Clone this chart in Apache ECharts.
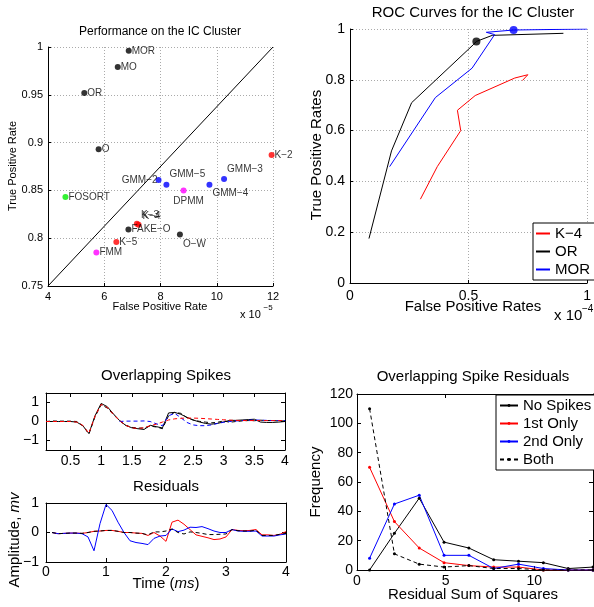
<!DOCTYPE html>
<html>
<head>
<meta charset="utf-8">
<script src="https://cdn.jsdelivr.net/npm/echarts@6/dist/echarts.min.js"></script>
<style>
html, body { margin: 0; padding: 0; background: #fff; }
#chart { width: 594px; height: 607px; }
</style>
</head>
<body>
<div id="chart"></div>
<script>
// ---------- data ----------
// performance on the IC cluster (FPR in units of 1e-5)
const methodNames = ['MOR', 'MO', 'OR', 'O', 'FAKE−O', 'O−W', 'FOSORT', 'GMM−2', 'GMM−5', 'GMM−4', 'GMM−3', 'DPMM', 'FMM', 'K−2', 'K−3', 'K−4', 'K−5'];
const methodFpr = [6.87, 6.48, 5.29, 5.80, 6.86, 8.69, 4.62, 7.93, 8.21, 9.74, 10.26, 8.82, 5.72, 11.95, 7.16, 7.22, 6.43];
const methodTpr = [0.996, 0.979, 0.952, 0.893, 0.809, 0.804, 0.843, 0.861, 0.856, 0.856, 0.862, 0.850, 0.785, 0.887, 0.815, 0.814, 0.796];
const diagFpr = [4, 12];
const diagTpr = [0.75, 1];

// ROC curves (FPR in units of 1e-4)
const rocK4Fpr = [0.297, 0.368, 0.467, 0.453, 0.528, 0.695, 0.75, 0.727];
const rocK4Tpr = [0.33, 0.458, 0.60, 0.68, 0.738, 0.807, 0.82, 0.797];
const rocOrFpr = [0.08, 0.175, 0.26, 0.52, 0.533, 0.60, 0.90];
const rocOrTpr = [0.175, 0.52, 0.71, 0.938, 0.951, 0.975, 0.983];
const rocMorFpr = [0.167, 0.36, 0.515, 0.61, 0.575, 0.69, 1.0];
const rocMorTpr = [0.458, 0.73, 0.846, 0.978, 0.987, 0.996, 1.0];
const rocOrPoint = [0.533, 0.951];
const rocMorPoint = [0.69, 0.996];

// overlapping spikes (ms, mV)
const spikeTime = [0.1, 0.2, 0.3, 0.4, 0.5, 0.6, 0.7, 0.8, 0.9, 1.0,
                   1.1, 1.2, 1.3, 1.4, 1.5, 1.6, 1.7, 1.8, 1.9, 2.0,
                   2.1, 2.2, 2.3, 2.4, 2.5, 2.6, 2.7, 2.8, 2.9, 3.0,
                   3.1, 3.2, 3.3, 3.4, 3.5, 3.6, 3.7, 3.8, 3.9, 4.0];
const spikeData = [0, 0, 0, 0, 0, -0.03, -0.22, -0.63, 0.3, 0.95,
                   0.78, 0.4, 0.05, -0.2, -0.33, -0.38, -0.42, -0.2, -0.27, -0.34,
                   0.45, 0.48, 0.38, 0.22, 0.08, -0.02, -0.1, -0.14, -0.1, -0.02,
                   0.06, 0.06, 0.08, 0.1, 0.12, -0.03, -0.05, -0.05, -0.03, 0];
const spikeBoth = [0, 0.03, 0.02, 0.02, 0.02, 0, -0.22, -0.66, 0.25, 0.88,
                   0.71, 0.36, 0.05, -0.2, -0.31, -0.35, -0.34, -0.24, -0.29, -0.38,
                   0.3, 0.48, 0.43, 0.2, 0.08, 0.01, -0.03, -0.07, -0.04, 0.03,
                   -0.04, 0, 0.03, 0.05, 0.04, 0.07, 0.05, 0.05, 0.03, 0.03];
const spikeSecond = [null, null, null, null, null, null, null, null, null, null,
                   null, null, 0, 0.02, 0.02, 0.02, 0.03, 0, -0.12, -0.22,
                   0.3, 0.43, 0.2, -0.05, -0.18, -0.22, -0.22, -0.18, -0.1, -0.04,
                   0, 0.03, 0.05, 0.07, 0.08, 0.07, 0.06, 0.05, 0.05, 0.05];
const spikeFirst = [0, 0, 0, 0, 0, -0.03, -0.2, -0.62, 0.28, 0.9,
                   0.74, 0.38, 0.05, -0.2, -0.33, -0.37, -0.33, -0.22, -0.14, -0.03,
                   0.08, 0.14, 0.17, 0.18, 0.18, 0.17, 0.15, 0.13, 0.11, 0.09,
                   0.07, 0.06, 0.05, 0.05, 0.05, 0.05, 0.05, 0.05, 0.05, 0.05];

// residuals
const resFirst = [0, -0.04, -0.03, -0.02, -0.02, -0.03, 0, 0.04, 0.05, 0.07,
                  0.07, 0.04, 0, 0, -0.02, -0.03, -0.1, 0, -0.12, -0.3,
                  0.35, 0.42, 0.28, 0.1, -0.08, -0.13, -0.18, -0.24, -0.22, -0.15,
                  0.1, 0.07, 0.06, 0.07, 0.1, -0.08, -0.08, -0.1, -0.06, 0.03];
const resSecond = [0, -0.04, -0.03, -0.02, -0.02, -0.04, -0.15, -0.62, 0.3, 0.95,
                  0.75, 0.35, 0, -0.28, -0.34, -0.37, -0.41, -0.2, -0.12, -0.1,
                  0.12, 0.03, 0.08, 0.18, 0.17, 0.2, 0.13, 0.05, 0, 0,
                  0.1, 0.05, 0.04, 0.04, 0.05, -0.12, -0.12, -0.12, -0.08, -0.05];
const resBoth = [0, -0.04, -0.03, -0.02, -0.02, -0.03, 0, 0.04, 0.05, 0.07,
                  0.07, 0.04, 0, 0, -0.02, -0.03, -0.08, 0.02, 0.02, 0.05,
                  0.12, 0, -0.05, 0.02, 0, -0.03, -0.07, -0.07, -0.06, -0.05,
                  0.1, 0.06, 0.05, 0.05, 0.08, -0.1, -0.1, -0.1, -0.06, -0.03];

// residual sum of squares histogram
const rssBins = [0.71, 2.11, 3.51, 4.91, 6.31, 7.71, 9.11, 10.51, 11.91, 13.31];
const freqNone = [0, 25, 49, 19, 15, 7, 6, 5, 1, 2];
const freqFirst = [70, 33, 15, 5, 3, 2, 2, 0, 0, 0];
const freqSecond = [8, 45, 51, 10, 10, 1, 4, 1, 0, 0];
const freqBoth = [110, 11, 4, 2, 3, 1, 1, 0, 0, 0];

// ---------- helpers ----------
const FONT = '"Liberation Sans", Arial, Helvetica, sans-serif';
const zip = (xs, ys) => xs.map((x, i) => [x, ys[i]]);
const minus = v => String(v).replace('-', '−');

function axis(grid, pos, min, max, step, opts) {
    opts = opts || {};
    const a = {
        type: 'value', gridIndex: grid, position: pos, min: min, max: max,
        axisLine: { show: true, onZero: false, lineStyle: { color: '#000', width: 1 } },
        axisTick: { show: true, inside: true, length: opts.tick || 4, lineStyle: { color: '#000', width: 1 } },
        axisLabel: { show: opts.label !== false, color: '#000', fontFamily: FONT, fontSize: opts.size || 14,
                     margin: opts.margin || 5, formatter: minus },
        splitLine: { show: !!opts.grid, lineStyle: { color: '#aaa', type: [1, 2], width: 1 } }
    };
    if (opts.ticks) {
        a.axisTick.customValues = opts.ticks;
        a.axisLabel.customValues = opts.ticks;
    } else {
        a.interval = step;
    }
    return a;
}

function text(x, y, str, size, opts) {
    opts = opts || {};
    const align = opts.align || 'center';
    return {
        type: 'text', x: x, y: y, rotation: opts.rot ? Math.PI / 2 : 0,
        style: {
            text: str, rich: opts.rich, fontSize: size, fontFamily: FONT, fill: '#000',
            align: align, verticalAlign: 'middle', textAlign: align, textVerticalAlign: 'middle'
        }
    };
}

function methodColor(name) {
    if (name.startsWith('GMM')) return '#0000ff';
    if (name.startsWith('K')) return '#ff0000';
    if (name === 'FOSORT') return '#00ee00';
    if (name === 'DPMM' || name === 'FMM') return '#ff00ff';
    return '#000';
}
const labelSpot = {
    'GMM−2': ['right', -1, 0],
    'GMM−5': ['left', 3, -10],
    'GMM−3': ['left', 3, -10],
    'GMM−4': ['left', 3, 9],
    'DPMM': ['center', 5, 11],
    'O−W': ['left', 3, 10],
    'K−3': ['left', 4, -9],
    'K−4': ['left', 4, -9]
};

const perfPoints = methodNames.map((name, i) => {
    const spot = labelSpot[name] || ['left', 3, 0];
    return {
        name: name,
        value: [methodFpr[i], methodTpr[i]],
        itemStyle: { color: methodColor(name) },
        label: { show: true, position: 'inside', align: spot[0], verticalAlign: 'middle',
                 offset: [spot[1], spot[2]], formatter: name, color: '#000', fontSize: 10, fontFamily: FONT }
    };
});

function line(name, x, y, data, color, dashed, extra) {
    return Object.assign({
        name: name, type: 'line', xAxisIndex: x, yAxisIndex: y, data: data,
        symbol: 'none', connectNulls: false, silent: true,
        lineStyle: { color: color, width: 1, type: dashed ? [4, 3] : 'solid' },
        itemStyle: { color: color }
    }, extra || {});
}

const chart = echarts.init(document.getElementById('chart'), null, { renderer: 'canvas' });

const option = {
    animation: false,
    backgroundColor: '#fff',
    textStyle: { fontFamily: FONT },
    grid: [
        { left: 48, right: 321, top: 47, bottom: 321 },
        { left: 350, right: 1, top: 29, bottom: 324 },
        { left: 46, right: 309, top: 393, bottom: 157 },
        { left: 46, right: 308, top: 503, bottom: 45 },
        { left: 357, right: 1, top: 394, bottom: 37 }
    ],
    xAxis: [
        axis(0, 'bottom', 4, 12, 2, { size: 11, margin: 5, grid: true, tick: 3 }),
        axis(1, 'bottom', 0, 1, 0.5, { size: 14, margin: 6, grid: true, tick: 3 }),
        axis(2, 'bottom', 0.1, 4, null, { ticks: [0.5, 1, 1.5, 2, 2.5, 3, 3.5, 4], margin: 4 }),
        axis(2, 'top', 0.1, 4, null, { ticks: [0.5, 1, 1.5, 2, 2.5, 3, 3.5, 4], label: false }),
        axis(3, 'bottom', 0, 4, 1, { margin: 3 }),
        axis(3, 'top', 0, 4, 1, { label: false }),
        axis(4, 'bottom', 0, 13.31, null, { ticks: [0, 5, 10], margin: 4 }),
        axis(4, 'top', 0, 13.31, null, { ticks: [0, 5, 10], label: false })
    ],
    yAxis: [
        axis(0, 'left', 0.75, 1, 0.05, { size: 11, margin: 5, grid: true, tick: 3 }),
        axis(1, 'left', 0, 1, 0.2, { size: 14, margin: 5, grid: true, tick: 3 }),
        axis(2, 'left', -1.5, 1.5, null, { ticks: [-1, 0, 1], margin: 7 }),
        axis(2, 'right', -1.5, 1.5, null, { ticks: [-1, 0, 1], label: false }),
        axis(3, 'left', -1, 1, 1, { margin: 7 }),
        axis(3, 'right', -1, 1, 1, { label: false }),
        axis(4, 'left', 0, 120, 20, { margin: 4 }),
        axis(4, 'right', 0, 120, 20, { label: false })
    ],
    legend: [
        {
            data: ['K−4', 'OR', 'MOR'], orient: 'vertical', left: 533, top: 223,
            itemWidth: 14, itemHeight: 1, itemGap: 3, padding: [3, 6, 3, 2],
            backgroundColor: '#fff', borderColor: '#000', borderWidth: 1, borderRadius: 0,
            selectedMode: false, textStyle: { color: '#000', fontSize: 15, fontFamily: FONT }
        },
        {
            data: ['No Spikes', '1st Only', '2nd Only', 'Both'], orient: 'vertical', left: 496, top: 395,
            itemWidth: 18, itemHeight: 3.5, itemGap: 3, padding: [3, 6, 3, 3],
            backgroundColor: '#fff', borderColor: '#000', borderWidth: 1, borderRadius: 0,
            selectedMode: false, textStyle: { color: '#000', fontSize: 15, fontFamily: FONT }
        }
    ],
    series: [
        // performance scatter
        line('diag', 0, 0, zip(diagFpr, diagTpr), '#000', false),
        {
            name: 'methods', type: 'scatter', xAxisIndex: 0, yAxisIndex: 0,
            symbol: 'circle', symbolSize: 6, silent: true, data: perfPoints
        },
        // ROC
        line('K−4', 1, 1, zip(rocK4Fpr, rocK4Tpr), '#ff0000', false),
        line('OR', 1, 1, zip(rocOrFpr, rocOrTpr), '#000', false),
        line('MOR', 1, 1, zip(rocMorFpr, rocMorTpr), '#0000ff', false),
        { name: 'orPt', type: 'scatter', xAxisIndex: 1, yAxisIndex: 1, symbolSize: 8, silent: true,
          itemStyle: { color: '#000' }, data: [rocOrPoint] },
        { name: 'morPt', type: 'scatter', xAxisIndex: 1, yAxisIndex: 1, symbolSize: 8, silent: true,
          itemStyle: { color: '#0000ff' }, data: [rocMorPoint] },
        // overlapping spikes
        line('spike data', 2, 2, zip(spikeTime, spikeData), '#000', false),
        line('spike both', 2, 2, zip(spikeTime, spikeBoth), '#000', true),
        line('spike second', 2, 2, zip(spikeTime, spikeSecond), '#0000ff', true),
        line('spike first', 2, 2, zip(spikeTime, spikeFirst), '#ff0000', true),
        // residuals
        line('res first', 4, 4, zip(spikeTime, resFirst), '#ff0000', false),
        line('res second', 4, 4, zip(spikeTime, resSecond), '#0000ff', false),
        line('res both', 4, 4, zip(spikeTime, resBoth), '#000', true),
        // histogram
        line('No Spikes', 6, 6, zip(rssBins, freqNone), '#000', false, { symbol: 'circle', symbolSize: 3, showSymbol: true }),
        line('1st Only', 6, 6, zip(rssBins, freqFirst), '#ff0000', false, { symbol: 'circle', symbolSize: 3, showSymbol: true }),
        line('2nd Only', 6, 6, zip(rssBins, freqSecond), '#0000ff', false, { symbol: 'circle', symbolSize: 3, showSymbol: true }),
        line('Both', 6, 6, zip(rssBins, freqBoth), '#000', true, { symbol: 'circle', symbolSize: 3, showSymbol: true })
    ],
    graphic: [
        text(160, 32, 'Performance on the IC Cluster', 12),
        text(160, 307, 'False Positive Rate', 11),
        text(13, 166, 'True Positive Rate', 11, { rot: true }),
        text(240, 315, 'x 10', 11, { align: 'left' }),
        text(263.5, 308, '−5', 8, { align: 'left' }),

        text(473, 13, 'ROC Curves for the IC Cluster', 15),
        text(473, 307, 'False Positive Rates', 15),
        text(317, 155, 'True Positive Rates', 15, { rot: true }),
        text(554, 316, 'x 10', 15, { align: 'left' }),
        text(582, 309, '−4', 10, { align: 'left' }),

        text(166, 376, 'Overlapping Spikes', 15),
        text(166, 487, 'Residuals', 15),
        text(166, 584, '{a|Time (}{b|ms}{a|)}', 15, {
            rich: { a: { fontSize: 15, fontFamily: FONT }, b: { fontSize: 15, fontFamily: FONT, fontStyle: 'italic' } }
        }),
        text(15, 540, '{a|Amplitude, }{b|mv}', 15, {
            rot: true,
            rich: { a: { fontSize: 15, fontFamily: FONT }, b: { fontSize: 15, fontFamily: FONT, fontStyle: 'italic' } }
        }),

        text(473, 377, 'Overlapping Spike Residuals', 15),
        text(473, 595, 'Residual Sum of Squares', 15),
        text(316, 482, 'Frequency', 15, { rot: true })
    ]
};

chart.setOption(option);
</script>
</body>
</html>
